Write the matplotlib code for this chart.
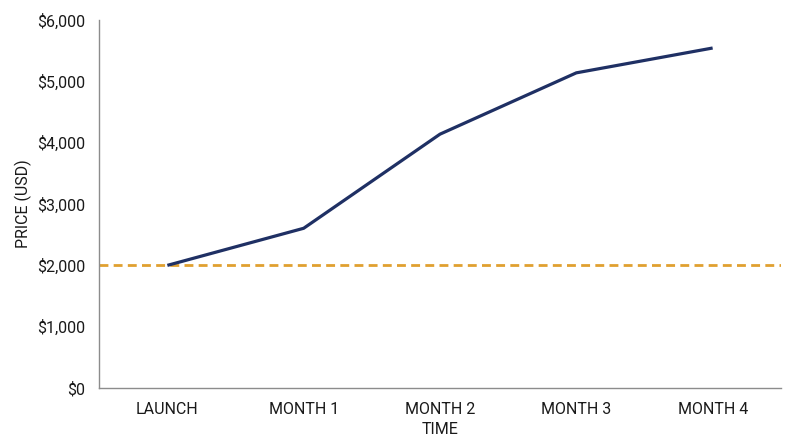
import matplotlib.pyplot as plt
from matplotlib.ticker import FuncFormatter

plt.rcParams['font.family'] = ['Roboto', 'DejaVu Sans']

# data
stages = ["LAUNCH", "MONTH 1", "MONTH 2", "MONTH 3", "MONTH 4"]
price = [2000, 2605, 4140, 5140, 5545]
launch_price = 2000

fig = plt.figure(figsize=(8, 4.47), dpi=100)
ax = fig.add_axes([0.124, 0.132, 0.852, 0.823])

x = range(len(stages))
ax.axhline(launch_price, color="#e0a030", linewidth=2.0, dashes=(3.2, 1.9), zorder=2)
ax.plot(x, price, color="#1f3064", linewidth=2.3, solid_capstyle="butt", zorder=3)

ax.set_xlim(-0.5, len(stages) - 0.5)
ax.set_ylim(0, 6000)
ax.set_yticks(range(0, 6001, 1000))
ax.yaxis.set_major_formatter(FuncFormatter(lambda v, p: f"${v:,.0f}"))
ax.set_xticks(list(x))
ax.set_xticklabels(stages)

for side in ["top", "right"]:
    ax.spines[side].set_visible(False)
for side in ["left", "bottom"]:
    ax.spines[side].set_color("#8c8c8c")
    ax.spines[side].set_linewidth(1.0)

ax.tick_params(axis="both", length=0, labelsize=11.5, colors="#1a1a1a")
ax.tick_params(axis="y", pad=10)
ax.tick_params(axis="x", pad=10)

ax.set_xlabel("TIME", fontsize=11.5, color="#1a1a1a", labelpad=4)
ax.set_ylabel("PRICE (USD)", fontsize=11.5, color="#1a1a1a")
ax.yaxis.set_label_coords(-0.099, 0.5)

fig.savefig("out.png", dpi=100)
